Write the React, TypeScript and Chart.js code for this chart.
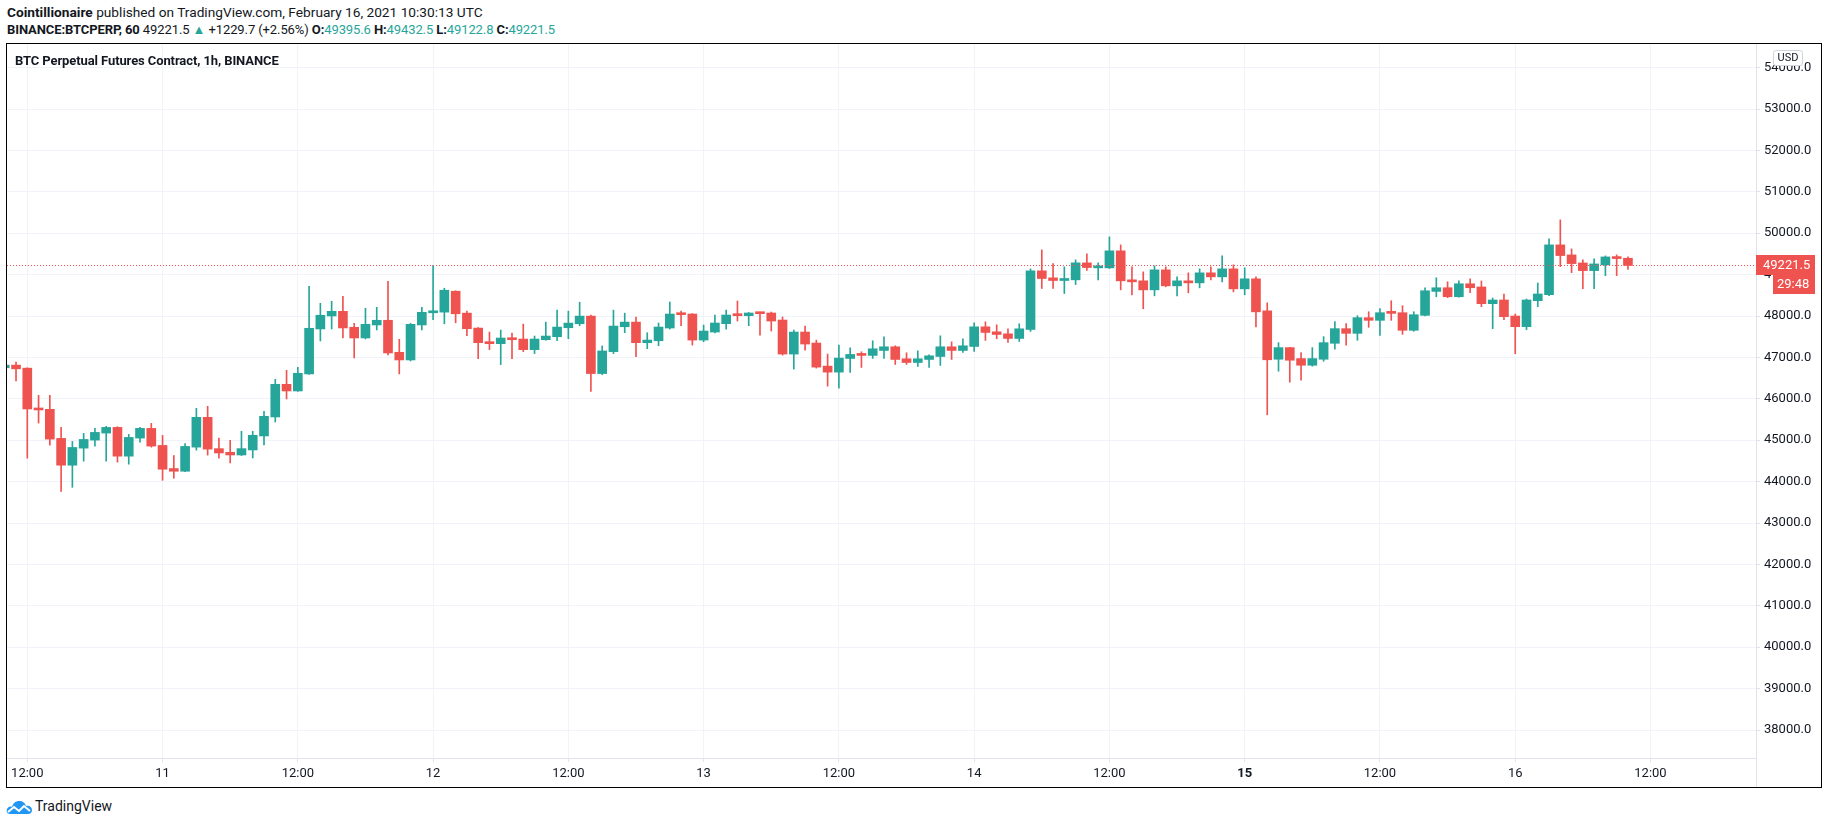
import React, { useEffect, useRef } from "react";
import { Chart, registerables } from "chart.js";

Chart.register(...registerables);

// Hourly candles, BTCPERP (Binance), Feb 10 10:00 -> Feb 16 10:00 UTC
const opens = [
  46750, 46814, 46741, 45771, 45747, 45044, 44397, 44809, 45003, 45173,
  45310, 44615, 45052, 45286, 44874, 44316, 44251, 44833, 45553, 44797,
  44709, 44644, 44765, 45103, 45562, 46351, 46190, 46601, 47688, 48002,
  48114, 47728, 47470, 47784, 47897, 47124, 46939, 47784, 48078, 48094,
  48599, 48070, 47709, 47380, 47332, 47468, 47444, 47188, 47428, 47500,
  47717, 47813, 47998, 46610, 47140, 47741, 47853, 47355, 47403, 47710,
  48048, 48048, 47419, 47613, 47815, 48024, 48008, 48073, 48073, 47903,
  47081, 47613, 47347, 46790, 46645, 46975, 47064, 47048, 47168, 47257,
  46967, 46878, 46951, 47023, 47257, 47168, 47265, 47739, 47619, 47570,
  47458, 47675, 49091, 48922, 48858, 48874, 49284, 49163, 49163, 49574,
  48874, 48850, 48632, 49115, 48729, 48850, 48801, 49043, 48946, 49139,
  48656, 48898, 48125, 46956, 47237, 46972, 46811, 46956, 47341, 47695,
  47582, 47960, 47896, 48080, 48080, 47655, 48016, 48594, 48683, 48466,
  48779, 48702, 48298, 48387, 48000, 47742, 48371, 48516, 49718, 49476,
  49282, 49097, 49234, 49427, 49395.6,
];
const highs = [
  46830, 46887, 46750, 46086, 46086, 45310, 44971, 45165, 45286, 45335,
  45327, 45141, 45310, 45407, 45116, 44631, 44922, 45771, 45820, 45052,
  44998, 45216, 45216, 45699, 46472, 46689, 46762, 48718, 48308, 48356,
  48477, 47824, 48187, 48211, 48839, 47438, 47824, 48211, 49225, 48671,
  48610, 48118, 47720, 47613, 47661, 47589, 47805, 47516, 47853, 48142,
  48118, 48334, 48022, 47276, 48142, 48070, 47974, 47597, 47831, 48339,
  48121, 48060, 47782, 48024, 48145, 48363, 48085, 48097, 48097, 47976,
  47661, 47758, 47419, 47081, 47298, 47233, 47136, 47402, 47498, 47281,
  47112, 47160, 47064, 47522, 47377, 47450, 47836, 47860, 47788, 47691,
  47812, 49139, 49598, 49268, 49187, 49356, 49501, 49284, 49912, 49718,
  49187, 49067, 49212, 49187, 48946, 49043, 49139, 49187, 49453, 49236,
  49163, 48946, 48319, 47357, 47245, 47116, 47237, 47502, 47863, 47815,
  48008, 48104, 48177, 48369, 48249, 48104, 48683, 48924, 48827, 48851,
  48900, 48847, 48435, 48532, 48048, 48411, 48798, 49863, 50323, 49621,
  49355, 49379, 49452, 49476, 49432.5,
];
const lows = [
  46740, 46434, 44567, 45415, 44882, 43766, 43863, 44494, 44858, 44494,
  44470, 44421, 44955, 44833, 44033, 44082, 44240, 44761, 44640, 44567,
  44451, 44630, 44572, 44886, 45441, 45997, 46180, 46590, 47398, 47688,
  47470, 46987, 47446, 47663, 47060, 46601, 46915, 47663, 47909, 47813,
  47837, 47524, 46971, 47188, 46827, 46971, 47140, 47092, 47415, 47404,
  47452, 47765, 46177, 46586, 47092, 47597, 47019, 47210, 47282, 47685,
  47766, 47298, 47379, 47589, 47685, 47879, 47766, 47540, 47637, 47056,
  46718, 47177, 46742, 46306, 46258, 46637, 46758, 46975, 46975, 46830,
  46830, 46782, 46758, 46806, 46951, 47120, 47144, 47410, 47450, 47361,
  47385, 47627, 48665, 48665, 48544, 48761, 49099, 48874, 49147, 48632,
  48512, 48174, 48488, 48705, 48488, 48560, 48681, 48874, 48825, 48584,
  48512, 47739, 45615, 46667, 46402, 46450, 46787, 46908, 47197, 47293,
  47414, 47727, 47534, 47896, 47558, 47631, 48005, 48466, 48442, 48455,
  48562, 48226, 47694, 47911, 47089, 47669, 48226, 48492, 49194, 49048,
  48661, 48661, 48976, 48976, 49122.8,
];
const closes = [
  46814, 46725, 45755, 45731, 45027, 44397, 44825, 45019, 45189, 45310,
  44615, 45068, 45286, 44858, 44300, 44251, 44850, 45553, 44785, 44692,
  44644, 44797, 45119, 45578, 46351, 46190, 46617, 47704, 48018, 48114,
  47712, 47470, 47800, 47897, 47108, 46939, 47800, 48090, 48118, 48623,
  48054, 47693, 47356, 47332, 47468, 47428, 47188, 47444, 47516, 47733,
  47829, 47998, 46610, 47156, 47757, 47853, 47356, 47419, 47734, 48048,
  48032, 47419, 47637, 47831, 48024, 48008, 48073, 48056, 47879, 47081,
  47613, 47323, 46766, 46645, 46984, 47072, 47048, 47208, 47257, 46951,
  46878, 46967, 47039, 47257, 47168, 47281, 47739, 47603, 47554, 47458,
  47691, 49091, 48906, 48858, 48890, 49284, 49171, 49187, 49574, 48850,
  48826, 48632, 49115, 48729, 48850, 48801, 49043, 48946, 49139, 48656,
  48898, 48101, 46943, 47237, 46932, 46811, 46972, 47357, 47695, 47582,
  47960, 47896, 48080, 48064, 47655, 48032, 48610, 48683, 48466, 48779,
  48683, 48298, 48387, 47984, 47742, 48387, 48532, 49718, 49460, 49266,
  49097, 49258, 49427, 49387, 49221.5,
];

const timeTickIndex = [2, 14, 26, 38, 50, 62, 74, 86, 98, 110, 122, 134, 146];
const timeTickLabels = ["12:00", "11", "12:00", "12", "12:00", "13", "12:00", "14", "12:00", "15", "12:00", "16", "12:00"];
const boldTimeLabels = ["15"];
const priceTicks = [
  38000, 39000, 40000, 41000, 42000, 43000, 44000, 45000, 46000,
  47000, 48000, 49000, 50000, 51000, 52000, 53000, 54000,
];
const lastPrice = 49221.5;
const countdown = "29:48";

const UP = "#26a69a";
const DOWN = "#ef5350";
const TEXT = "#131722";
const GRID = "#f0f3fa";
const AXIS = "#e0e3eb";

const CANVAS_W = 1814;
const CANVAS_H = 743;

export default function App() {
  const ref = useRef<HTMLCanvasElement>(null);

  useEffect(() => {
    if (!ref.current) return;
    const colors = opens.map((o, i) => (closes[i] >= o ? UP : DOWN));
    const bodies = opens.map((o, i) => ({ x: i, y: [o, closes[i]] }));
    const wicks = opens.map((_, i) => ({ x: i, y: [lows[i], highs[i]] }));

    const pricePlugin = {
      id: "lastPrice",
      afterDatasetsDraw(chart: any) {
        const { ctx, chartArea, scales } = chart;
        const y = Math.round(scales.y.getPixelForValue(lastPrice)) + 0.5;
        ctx.save();
        ctx.beginPath();
        ctx.rect(chartArea.left, chartArea.top, chartArea.right - chartArea.left, chartArea.bottom - chartArea.top);
        ctx.clip();
        ctx.strokeStyle = DOWN;
        ctx.lineWidth = 1;
        ctx.setLineDash([1, 2]);
        ctx.beginPath();
        ctx.moveTo(chartArea.left, y);
        ctx.lineTo(chartArea.right, y);
        ctx.stroke();
        ctx.restore();
      },
      afterDraw(chart: any) {
        const { ctx, chartArea, scales } = chart;
        const y = Math.round(scales.y.getPixelForValue(lastPrice));
        const x0 = chartArea.right;
        ctx.save();
        // axis line continues through the time-axis strip
        ctx.strokeStyle = AXIS;
        ctx.lineWidth = 1;
        ctx.beginPath();
        ctx.moveTo(Math.round(x0) + 0.5, chartArea.bottom);
        ctx.lineTo(Math.round(x0) + 0.5, CANVAS_H);
        ctx.stroke();
        ctx.fillStyle = DOWN;
        ctx.fillRect(x0, y - 10, 59, 20);
        ctx.fillRect(x0 + 17, y + 10, 42, 19);
        ctx.fillStyle = "#ffffff";
        ctx.font = "13px Roboto";
        ctx.textBaseline = "middle";
        ctx.textAlign = "left";
        ctx.fillText(lastPrice.toFixed(1), x0 + 7, y + 0.5);
        ctx.fillText(countdown, x0 + 21, y + 20);
        ctx.restore();
      },
    };

    const chart = new Chart(ref.current, {
      type: "bar",
      data: {
        datasets: [
          {
            label: "wick",
            data: wicks as any,
            backgroundColor: colors,
            borderWidth: 0,
            barThickness: 1,
            grouped: false,
            order: 2,
          } as any,
          {
            label: "body",
            data: bodies as any,
            backgroundColor: colors,
            borderWidth: 0,
            barThickness: 9,
            minBarLength: 2,
            grouped: false,
            order: 1,
          } as any,
        ],
      },
      options: {
        animation: false,
        responsive: false,
        maintainAspectRatio: false,
        events: [],
        layout: { padding: 0 },
        plugins: {
          legend: { display: false },
          tooltip: { enabled: false },
        },
        scales: {
          x: {
            type: "linear",
            position: "bottom",
            min: 0.2,
            max: 155.36,
            offset: false,
            grid: { color: GRID, tickColor: AXIS, tickLength: 4, drawTicks: true, offset: false },
            border: { display: true, color: AXIS },
            afterBuildTicks: (scale: any) => {
              scale.ticks = timeTickIndex.map((v) => ({ value: v }));
            },
            afterFit: (scale: any) => {
              scale.height = 29;
              scale.paddingLeft = 0;
              scale.paddingRight = 0;
            },
            ticks: {
              autoSkip: false,
              maxRotation: 0,
              minRotation: 0,
              padding: 4,
              color: TEXT,
              font: (ctx: any) => {
                const i = timeTickIndex.indexOf(ctx.tick ? ctx.tick.value : -1);
                const lbl = i >= 0 ? timeTickLabels[i] : "";
                return { family: "Roboto", size: 13, weight: boldTimeLabels.includes(lbl) ? "bold" : "normal" } as any;
              },
              callback: (v: any) => {
                const i = timeTickIndex.indexOf(Number(v));
                return i >= 0 ? timeTickLabels[i] : "";
              },
            },
          },
          y: {
            type: "linear",
            position: "right",
            min: 37325,
            max: 54570,
            grid: { color: GRID, tickColor: AXIS, tickLength: 4, drawTicks: true },
            border: { display: true, color: AXIS },
            afterBuildTicks: (scale: any) => {
              scale.ticks = priceTicks.map((v) => ({ value: v }));
            },
            afterFit: (scale: any) => {
              scale.width = CANVAS_W - 1749;
              scale.paddingTop = 0;
              scale.paddingBottom = 0;
            },
            ticks: {
              padding: 4,
              color: TEXT,
              font: { family: "Roboto", size: 13 },
              callback: (v: any) => Number(v).toFixed(1),
            },
          },
        },
      },
      plugins: [pricePlugin],
    });
    return () => chart.destroy();
  }, []);

  const green = { color: UP };
  return (
    <div
      style={{
        position: "absolute",
        left: 0,
        top: 0,
        width: 1828,
        height: 824,
        background: "#ffffff",
        overflow: "hidden",
        fontFamily: "Roboto, sans-serif",
        color: TEXT,
      }}
    >
      <div style={{ position: "absolute", left: 7, top: 4, fontSize: 13.7, lineHeight: "17px", whiteSpace: "nowrap" }}>
        <span style={{ fontWeight: 700 }}>Cointillionaire</span> published on TradingView.com, February 16, 2021 10:30:13 UTC
      </div>
      <div style={{ position: "absolute", left: 7, top: 21, fontSize: 13, lineHeight: "17px", whiteSpace: "nowrap", letterSpacing: "-0.1px" }}>
        <span style={{ fontWeight: 700 }}>BINANCE:BTCPERP, 60</span> 49221.5 <span style={green}>▲</span> +1229.7 (+2.56%){" "}
        <span style={{ fontWeight: 700 }}>O:</span>
        <span style={green}>49395.6</span> <span style={{ fontWeight: 700 }}>H:</span>
        <span style={green}>49432.5</span> <span style={{ fontWeight: 700 }}>L:</span>
        <span style={green}>49122.8</span> <span style={{ fontWeight: 700 }}>C:</span>
        <span style={green}>49221.5</span>
      </div>
      <div
        style={{
          position: "absolute",
          left: 6,
          top: 43,
          width: CANVAS_W,
          height: CANVAS_H,
          border: "1px solid #000000",
        }}
      >
        <canvas
          ref={ref}
          width={CANVAS_W}
          height={CANVAS_H}
          style={{ position: "absolute", left: 0, top: 0, width: CANVAS_W, height: CANVAS_H, display: "block" }}
        />
        <div
          style={{
            position: "absolute",
            left: 8,
            top: 9,
            fontSize: 13,
            fontWeight: 700,
            lineHeight: "16px",
            whiteSpace: "nowrap",
            letterSpacing: "-0.1px",
          }}
        >
          BTC Perpetual Futures Contract, 1h, BINANCE
        </div>
        <div
          style={{
            position: "absolute",
            left: 1766,
            top: 6,
            width: 30,
            height: 16,
            boxSizing: "border-box",
            border: "1px solid #d1d4dc",
            borderRadius: 3,
            background: "#ffffff",
            fontSize: 11,
            lineHeight: "14px",
            textAlign: "center",
          }}
        >
          USD
        </div>
      </div>
      <div style={{ position: "absolute", left: 6, top: 797, height: 18, display: "flex", alignItems: "center" }}>
        <svg width="27" height="16" viewBox="0 0 27 16">
          <path d="M4 16 C1 16 0 13 1 11 C2 9 4 8 6 9 C7 5 10 3 13 3 C17 3 19 5 20 8 C23 7 26 9 26 12 C26 14 25 16 22 16 Z" fill="#2196f3" />
          <polyline points="2,14 8,9 13,13 18,8 24,13" fill="none" stroke="#ffffff" strokeWidth="2" />
        </svg>
        <span style={{ marginLeft: 2, fontSize: 14, color: TEXT }}>TradingView</span>
      </div>
    </div>
  );
}
